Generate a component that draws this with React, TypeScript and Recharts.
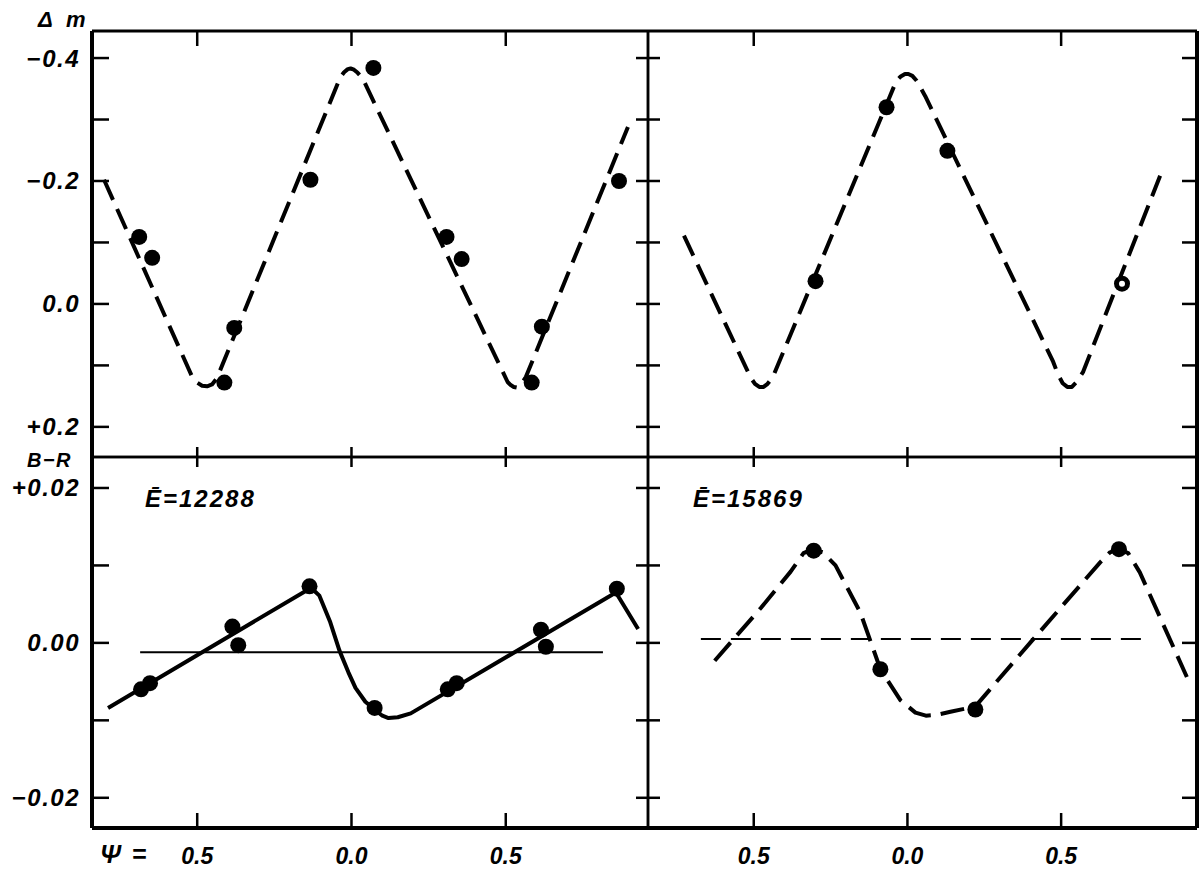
import React from "react";
import { ComposedChart, Line, Scatter, XAxis, YAxis } from "recharts";

const W = 1201;
const H = 877;

// panel edges (px)
const LEFT = 92;
const MID = 648;
const RIGHT = 1197;
const TOP = 31;
const DIV = 457;
const BOTTOM = 828;

// --- top left: delta m, E = 12288
const tlCurvePhase = [-0.802, -0.516, -0.5, -0.484, -0.468, -0.452, -0.438, -0.429, -0.036, -0.024, -0.012, -0.003, 0.008, 0.02, 0.036, 0.506, 0.516, 0.526, 0.536, 0.546, 0.556, 0.565, 0.896];
const tlCurveMag = [-0.202, 0.119, 0.128, 0.133, 0.134, 0.131, 0.122, 0.112, -0.369, -0.377, -0.382, -0.383, -0.381, -0.376, -0.367, 0.127, 0.132, 0.135, 0.136, 0.133, 0.126, 0.119, -0.288];
const tlDotPhase = [-0.688, -0.646, -0.412, -0.38, -0.133, 0.071, 0.308, 0.357, 0.584, 0.617, 0.867];
const tlDotMag = [-0.109, -0.075, 0.128, 0.039, -0.202, -0.384, -0.109, -0.073, 0.128, 0.037, -0.2];

// --- top right: delta m, E = 15869
const trCurvePhase = [-0.727, -0.523, -0.51, -0.496, -0.482, -0.468, -0.455, -0.438, -0.036, -0.022, -0.008, 0.003, 0.016, 0.03, 0.058, 0.474, 0.49, 0.505, 0.52, 0.535, 0.55, 0.571, 0.831];
const trCurveMag = [-0.111, 0.106, 0.12, 0.13, 0.135, 0.135, 0.13, 0.119, -0.363, -0.37, -0.374, -0.374, -0.371, -0.363, -0.338, 0.094, 0.115, 0.129, 0.135, 0.135, 0.127, 0.111, -0.22];
const trDotPhase = [-0.299, -0.068, 0.13];
const trDotMag = [-0.037, -0.32, -0.249];
const trOpenPhase = [0.698];
const trOpenMag = [-0.033];

// --- bottom left: B-R, E = 12288
const blCurvePhase = [-0.789, -0.136, -0.12, -0.104, -0.07, -0.039, -0.01, 0.013, 0.045, 0.078, 0.1, 0.12, 0.15, 0.192, 0.857, 0.929];
const blCurveColor = [-0.0084, 0.007, 0.0067, 0.0061, 0.0028, -0.001, -0.0038, -0.0058, -0.0076, -0.0087, -0.0094, -0.0097, -0.0096, -0.0091, 0.0065, 0.0018];
const blMeanPhase = [-0.685, 0.815];
const blMeanColor = [-0.0012, -0.0012];
const blDotPhase = [-0.682, -0.653, -0.386, -0.367, -0.136, 0.075, 0.312, 0.341, 0.614, 0.63, 0.86];
const blDotColor = [-0.006, -0.0052, 0.0021, -0.0003, 0.0073, -0.0084, -0.006, -0.0052, 0.0017, -0.0005, 0.007];

// --- bottom right: B-R, E = 15869
const brCurvePhase = [-0.627, -0.477, -0.38, -0.338, -0.308, -0.276, -0.234, -0.153, -0.088, -0.023, 0.026, 0.06, 0.095, 0.14, 0.221, 0.399, 0.627, 0.659, 0.688, 0.718, 0.756, 0.909];
const brCurveColor = [-0.0023, 0.0045, 0.0092, 0.0116, 0.0121, 0.0117, 0.01, 0.0039, -0.0034, -0.0074, -0.009, -0.0094, -0.0093, -0.0089, -0.0082, 0.0, 0.0104, 0.0117, 0.0121, 0.0116, 0.0091, -0.0044];
const brMeanPhase = [-0.672, 0.789];
const brMeanColor = [0.0005, 0.0005];
const brDotPhase = [-0.305, -0.088, 0.221, 0.688];
const brDotColor = [0.0119, -0.0034, -0.0086, 0.0121];

const phaseTicks = [-0.5, 0, 0.5];
const magTicks = [-0.4, -0.3, -0.2, -0.1, 0, 0.1, 0.2];
const colorTicks = [0.02, 0.01, 0, -0.01, -0.02];

const magLabels: Record<string, string> = { "-0.400": "−0.4", "-0.200": "−0.2", "0.000": "0.0", "0.200": "+0.2" };
const colorLabels: Record<string, string> = { "0.020": "+0.02", "0.000": "0.00", "-0.020": "−0.02" };
const phaseLabels: Record<string, string> = { "-0.500": "0.5", "0.000": "0.0", "0.500": "0.5" };

const zip = (xs: number[], ys: number[]) => xs.map((x, i) => ({ x, y: ys[i] }));

const font = {
  fontFamily: "'Liberation Sans', Arial, sans-serif",
  fontWeight: 700,
  fontStyle: "italic",
  fill: "#000",
} as const;

// tick on a vertical edge: short line from x+a to x+b, optional label to the left
const vTick = (a: number, b: number, labels?: Record<string, string>) => (p: any) => {
  const { x, y, payload } = p;
  const lab = labels ? labels[Number(payload.value).toFixed(3)] : undefined;
  return (
    <g>
      <line x1={x + a} x2={x + b} y1={y} y2={y} stroke="#000" strokeWidth={2.5} />
      {lab && (
        <text x={x - 12} y={y} textAnchor="end" dominantBaseline="central" fontSize={24} letterSpacing={1.5} {...font}>
          {lab}
        </text>
      )}
    </g>
  );
};

// tick on a horizontal edge, optional label below
const hTick = (a: number, b: number, labels?: Record<string, string>) => (p: any) => {
  const { x, y, payload } = p;
  const lab = labels ? labels[Number(payload.value).toFixed(3)] : undefined;
  return (
    <g>
      <line x1={x} x2={x} y1={y + a} y2={y + b} stroke="#000" strokeWidth={2.5} />
      {lab && (
        <text x={x} y={y + 28} textAnchor="middle" dominantBaseline="central" fontSize={23} {...font}>
          {lab}
        </text>
      )}
    </g>
  );
};

const dotShape = (p: any) => <circle cx={p.cx} cy={p.cy} r={8} fill="#000" />;
const openDotShape = (p: any) => (
  <g>
    <circle cx={p.cx} cy={p.cy} r={8} fill="#000" />
    <circle cx={p.cx} cy={p.cy} r={3} fill="#fff" />
  </g>
);

type PanelProps = {
  l: number;
  t: number;
  r: number;
  b: number;
  xDomain: [number, number];
  yDomain: [number, number];
  reversed?: boolean;
  yTicks: number[];
  edges: { left: number; right: number; top: number; bottom: number };
  ticks: { left: any; right: any; top: any; bottom: any };
  curve: { x: number; y: number }[];
  curveDash?: string;
  mean?: { x: number; y: number }[];
  meanDash?: string;
  dots: { x: number; y: number }[];
  openDots?: { x: number; y: number }[];
};

// axes take 1px each, so margins are shrunk by 1 to keep the plot box on the panel edges
const Panel = (p: PanelProps) => (
  <div style={{ position: "absolute", left: 0, top: 0 }}>
    <ComposedChart width={W} height={H} margin={{ top: p.t - 1, left: p.l - 1, right: W - p.r - 1, bottom: H - p.b - 1 }}>
      <XAxis
        xAxisId="b"
        orientation="bottom"
        type="number"
        dataKey="x"
        domain={p.xDomain}
        allowDataOverflow
        ticks={phaseTicks}
        interval={0}
        height={1}
        tickSize={0}
        tickMargin={0}
        tickLine={false}
        axisLine={{ stroke: "#000", strokeWidth: p.edges.bottom }}
        tick={p.ticks.bottom}
      />
      <XAxis
        xAxisId="t"
        orientation="top"
        type="number"
        dataKey="x"
        domain={p.xDomain}
        allowDataOverflow
        ticks={phaseTicks}
        interval={0}
        height={1}
        tickSize={0}
        tickMargin={0}
        tickLine={false}
        axisLine={{ stroke: "#000", strokeWidth: p.edges.top }}
        tick={p.ticks.top}
      />
      <YAxis
        yAxisId="l"
        orientation="left"
        type="number"
        dataKey="y"
        domain={p.yDomain}
        reversed={p.reversed}
        allowDataOverflow
        ticks={p.yTicks}
        interval={0}
        width={1}
        tickSize={0}
        tickMargin={0}
        tickLine={false}
        axisLine={{ stroke: "#000", strokeWidth: p.edges.left }}
        tick={p.ticks.left}
      />
      <YAxis
        yAxisId="r"
        orientation="right"
        type="number"
        dataKey="y"
        domain={p.yDomain}
        reversed={p.reversed}
        allowDataOverflow
        ticks={p.yTicks}
        interval={0}
        width={1}
        tickSize={0}
        tickMargin={0}
        tickLine={false}
        axisLine={{ stroke: "#000", strokeWidth: p.edges.right }}
        tick={p.ticks.right}
      />
      {p.mean && (
        <Line
          xAxisId="b"
          yAxisId="l"
          data={p.mean}
          dataKey="y"
          type="linear"
          stroke="#000"
          strokeWidth={2}
          strokeDasharray={p.meanDash}
          dot={false}
          activeDot={false}
          isAnimationActive={false}
        />
      )}
      <Line
        xAxisId="b"
        yAxisId="l"
        data={p.curve}
        dataKey="y"
        type="linear"
        stroke="#000"
        strokeWidth={4}
        strokeLinejoin="round"
        strokeDasharray={p.curveDash}
        dot={false}
        activeDot={false}
        isAnimationActive={false}
      />
      <Scatter xAxisId="b" yAxisId="l" data={p.dots} dataKey="y" shape={dotShape} isAnimationActive={false} />
      {p.openDots && (
        <Scatter xAxisId="b" yAxisId="l" data={p.openDots} dataKey="y" shape={openDotShape} isAnimationActive={false} />
      )}
    </ComposedChart>
  </div>
);

const leftXDomain: [number, number] = [-0.841, 0.961];
const rightXDomain: [number, number] = [-0.844, 0.942];
const magDomain: [number, number] = [-0.444, 0.249];
const colorDomain: [number, number] = [-0.0239, 0.024];

export default function App() {
  return (
    <div style={{ position: "absolute", left: 0, top: 0, width: W, height: H, background: "#fff" }}>
      <Panel
        l={LEFT}
        t={TOP}
        r={MID}
        b={DIV}
        xDomain={leftXDomain}
        yDomain={magDomain}
        reversed
        yTicks={magTicks}
        edges={{ left: 4, right: 2.5, top: 3, bottom: 2.5 }}
        ticks={{ left: vTick(0, 17, magLabels), right: vTick(-12, 0), top: hTick(0, 15), bottom: hTick(-10, 0) }}
        curve={zip(tlCurvePhase, tlCurveMag)}
        curveDash="22 10"
        dots={zip(tlDotPhase, tlDotMag)}
      />
      <Panel
        l={MID}
        t={TOP}
        r={RIGHT}
        b={DIV}
        xDomain={rightXDomain}
        yDomain={magDomain}
        reversed
        yTicks={magTicks}
        edges={{ left: 2.5, right: 4, top: 3, bottom: 2.5 }}
        ticks={{ left: vTick(0, 12), right: vTick(-15, 0), top: hTick(0, 15), bottom: hTick(-10, 0) }}
        curve={zip(trCurvePhase, trCurveMag)}
        curveDash="22 10"
        dots={zip(trDotPhase, trDotMag)}
        openDots={zip(trOpenPhase, trOpenMag)}
      />
      <Panel
        l={LEFT}
        t={DIV}
        r={MID}
        b={BOTTOM}
        xDomain={leftXDomain}
        yDomain={colorDomain}
        yTicks={colorTicks}
        edges={{ left: 4, right: 2.5, top: 2.5, bottom: 4 }}
        ticks={{ left: vTick(0, 17, colorLabels), right: vTick(-12, 0), top: hTick(0, 10), bottom: hTick(-15, 0, phaseLabels) }}
        curve={zip(blCurvePhase, blCurveColor)}
        mean={zip(blMeanPhase, blMeanColor)}
        dots={zip(blDotPhase, blDotColor)}
      />
      <Panel
        l={MID}
        t={DIV}
        r={RIGHT}
        b={BOTTOM}
        xDomain={rightXDomain}
        yDomain={colorDomain}
        yTicks={colorTicks}
        edges={{ left: 2.5, right: 4, top: 2.5, bottom: 4 }}
        ticks={{ left: vTick(0, 12), right: vTick(-15, 0), top: hTick(0, 10), bottom: hTick(-15, 0, phaseLabels) }}
        curve={zip(brCurvePhase, brCurveColor)}
        curveDash="24 10"
        mean={zip(brMeanPhase, brMeanColor)}
        meanDash="20 10"
        dots={zip(brDotPhase, brDotColor)}
      />
      <svg width={W} height={H} style={{ position: "absolute", left: 0, top: 0, pointerEvents: "none" }}>
        <text x={38} y={27} fontSize={22} letterSpacing={4} {...font}>
          Δ m
        </text>
        <text x={27} y={467} fontSize={20} letterSpacing={1.5} {...font}>
          B−R
        </text>
        <text x={100} y={863} fontSize={25} letterSpacing={2} {...font}>
          Ψ =
        </text>
        <text x={145} y={507} fontSize={24} letterSpacing={2} {...font}>
          Ē=12288
        </text>
        <text x={693} y={507} fontSize={24} letterSpacing={2} {...font}>
          Ē=15869
        </text>
      </svg>
    </div>
  );
}
